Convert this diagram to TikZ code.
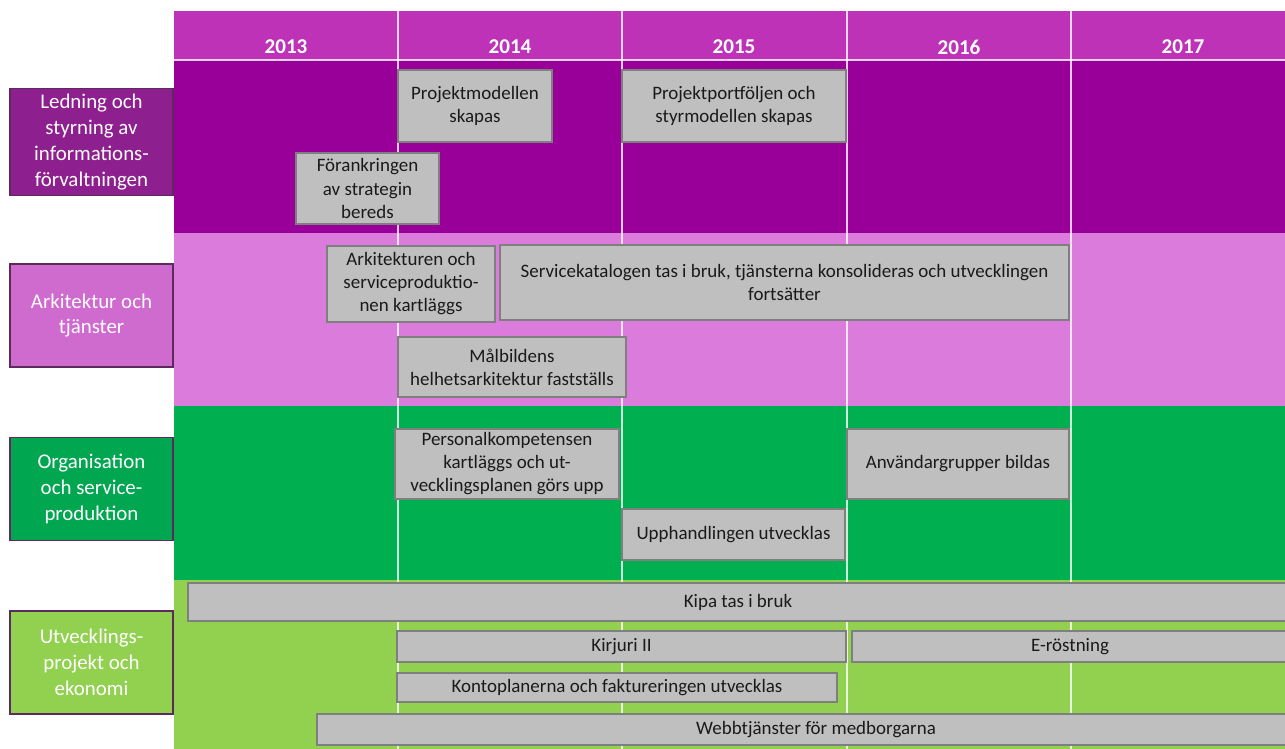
\documentclass[tikz,border=0pt]{standalone}
\usepackage{fontspec}
\setmainfont{Carlito}
\definecolor{ink}{HTML}{1A1A1A}
\definecolor{headfill}{HTML}{BE32B8}
\definecolor{leadfill}{HTML}{990099}
\definecolor{archfill}{HTML}{DB7BDB}
\definecolor{orgfill}{HTML}{00B050}
\definecolor{devfill}{HTML}{92D050}
\definecolor{leadkey}{HTML}{8E1F8E}
\definecolor{archkey}{HTML}{CF6ACF}
\definecolor{orgkey}{HTML}{00A650}
\definecolor{devkey}{HTML}{92D050}
\definecolor{keyline}{HTML}{5C2A5C}
\definecolor{taskfill}{HTML}{BFBFBF}
\definecolor{taskline}{HTML}{7F7F7F}
\newcommand{\boxsize}{\fontsize{10.8}{13.1}\selectfont}
\newcommand{\keysize}{\fontsize{11.9}{14.7}\selectfont}
\newcommand{\yearsize}{\fontsize{12}{14}\selectfont\bfseries}
\tikzset{
 every node/.append style={align=center},
 task/.style={draw=taskline,fill=taskfill,line width=.9pt,inner sep=2pt,font=\boxsize,text=ink},
 rowkey/.style={draw=keyline,line width=.6pt,text=white,font=\keysize,minimum width=3.26cm,minimum height=2.06cm},
 year/.style={text=white,font=\yearsize,inner sep=1pt},
 grid/.style={draw=white,line width=.8pt,opacity=.8},
}
% task box from its corners in pixels: name, x1, y1, x2, y2, text
\newcommand{\taskbox}[6]{
 \node[task,minimum width={(#4-#2)*0.02cm},minimum height={(#5-#3)*0.02cm}] (#1) at ({(#2+#4)/2},{(#3+#5)/2}) {#6};
}

\begin{document}
\begin{tikzpicture}[x=0.02cm,y=-0.02cm]

\useasboundingbox (0,0) rectangle (1285,749);
% bands
\fill[headfill] (174,11) rectangle (1285,60);
\fill[leadfill] (174,60) rectangle (1285,233);
\fill[archfill] (174,233) rectangle (1285,406);
\fill[orgfill] (174,406) rectangle (1285,580);
\fill[devfill] (174,580) rectangle (1285,749);
\foreach \x in {398,622,847,1071}
  \draw[grid] (\x,11) -- (\x,749);
\draw[grid] (174,60) -- (1285,60);
\foreach \x/\yr in {286/2013,510/2014,734/2015,959/2016,1183/2017}
  \node[year] (y\yr) at (\x,47) {\yr};

% row keys
\node[rowkey,fill=leadkey] (lead) at (91.5,142) {Ledning och\\styrning av\\informations-\\förvaltningen};
\node[rowkey,fill=archkey] (arch) at (91.5,315.5) {Arkitektur och\\tjänster};
\node[rowkey,fill=orgkey] (org) at (91.5,489) {Organisation\\och service-\\produktion};
\node[rowkey,fill=devkey] (dev) at (91.5,662.5) {Utvecklings-\\projekt och\\ekonomi};

% ledning
\taskbox{model}{398}{70}{552}{142}{Projektmodellen\\skapas}
\taskbox{portfolio}{622}{70}{846}{142}{Projektportföljen och\\styrmodellen skapas}
\taskbox{anchor}{296}{153}{439}{224}{Förankringen\\av strategin\\bereds}
% arkitektur
\taskbox{survey}{327}{246}{495}{322}{Arkitekturen och\\serviceproduktio-\\nen kartläggs}
\taskbox{catalog}{500}{245}{1069}{320}{Servicekatalogen tas i bruk, tjänsterna konsolideras och utvecklingen\\fortsätter}
\taskbox{target}{398}{337}{626}{397}{Målbildens\\helhetsarkitektur fastställs}
% organisation
\taskbox{staff}{395}{429}{619}{499}{Personalkompetensen\\kartläggs och ut-\\vecklingsplanen görs upp}
\taskbox{users}{847}{429}{1069}{499}{Användargrupper bildas}
\taskbox{procure}{622}{509}{845}{560}{Upphandlingen utvecklas}
% utveckling
\taskbox{kipa}{188}{583}{1288}{621}{Kipa tas i bruk}
\taskbox{kirjuri}{397}{631}{846}{662}{Kirjuri II}
\taskbox{evote}{852}{631}{1288}{662}{E-röstning}
\taskbox{accounts}{397}{673}{837}{702}{Kontoplanerna och faktureringen utvecklas}
\taskbox{web}{317}{714}{1315}{745}{Webbtjänster för medborgarna}

\end{tikzpicture}
\end{document}
